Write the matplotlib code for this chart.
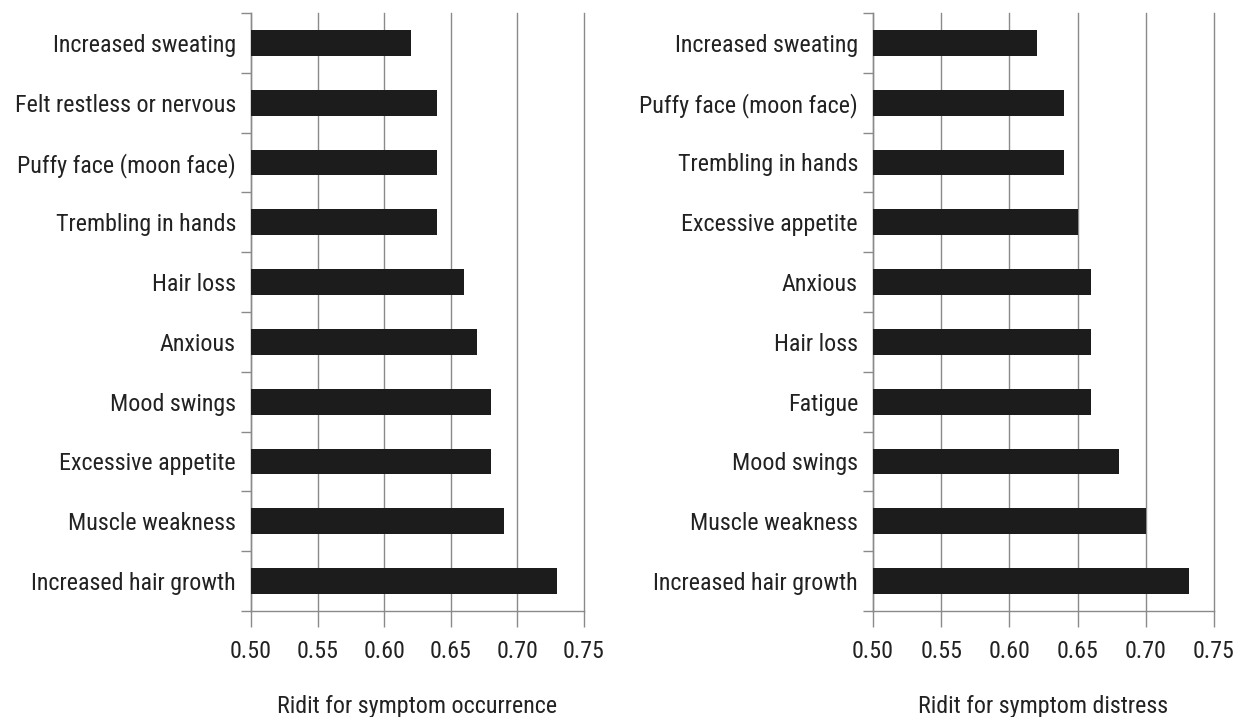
import matplotlib
matplotlib.use("Agg")
import matplotlib.pyplot as plt
import numpy as np
from matplotlib.ticker import FixedLocator

plt.rcParams['font.family'] = ['Roboto Condensed', 'Archivo Narrow', 'DejaVu Sans']

occ_labels = ["Increased sweating", "Felt restless or nervous", "Puffy face (moon face)",
              "Trembling in hands", "Hair loss", "Anxious", "Mood swings",
              "Excessive appetite", "Muscle weakness", "Increased hair growth"]
occ_values = [0.62, 0.64, 0.64, 0.64, 0.66, 0.67, 0.68, 0.68, 0.69, 0.73]

dis_labels = ["Increased sweating", "Puffy face (moon face)", "Trembling in hands",
              "Excessive appetite", "Anxious", "Hair loss", "Fatigue", "Mood swings",
              "Muscle weakness", "Increased hair growth"]
dis_values = [0.62, 0.64, 0.64, 0.65, 0.66, 0.66, 0.66, 0.68, 0.70, 0.732]

x_ticks = [0.50, 0.55, 0.60, 0.65, 0.70, 0.75]
x_titles = ["Ridit for symptom occurrence", "Ridit for symptom distress"]

W, H = 1242, 717
fig = plt.figure(figsize=(W / 100, H / 100), dpi=100)

text_c = "#222222"
grid_c = "#8a8a8a"
bar_c = "#1c1c1c"
fs = 17.3

panels = [
    (occ_labels, occ_values, x_titles[0], (251, 584)),
    (dis_labels, dis_values, x_titles[1], (873, 1214)),
]
top_px, bot_px = 13, 611

for labels, values, title, (x0, x1) in panels:
    ax = fig.add_axes([x0 / W, 1 - bot_px / H, (x1 - x0) / W, (bot_px - top_px) / H])
    n = len(labels)
    ypos = np.arange(n)[::-1]
    ax.barh(ypos, np.array(values) - 0.5, left=0.5, height=0.43, color=bar_c, zorder=3)
    ax.set_xlim(0.5, 0.75)
    ax.set_ylim(-0.5, n - 0.5)
    ax.set_yticks(ypos)
    ax.set_yticklabels(labels, fontsize=fs, color=text_c)
    ax.yaxis.set_minor_locator(FixedLocator(np.arange(-0.5, n, 1.0)))
    ax.tick_params(axis='y', which='major', length=0, pad=10.8)
    ax.tick_params(axis='y', which='minor', length=7.2, width=1, color=grid_c, direction='out')
    ax.set_xticks(x_ticks)
    ax.set_xticklabels([f"{v:.2f}" for v in x_ticks], fontsize=fs, color=text_c)
    ax.tick_params(axis='x', which='major', length=11.5, width=1, color=grid_c, pad=9.5)
    ax.grid(axis='x', color=grid_c, linewidth=1, zorder=0)
    for gl in ax.get_xgridlines():
        gl.set_clip_on(False)
    for s in ['top', 'right']:
        ax.spines[s].set_visible(False)
    for s in ['left', 'bottom']:
        ax.spines[s].set_color(grid_c)
        ax.spines[s].set_linewidth(1)
    fig.text((x0 + x1) / 2 / W, 1 - 713 / H, title, fontsize=fs, color=text_c,
             ha='center', va='baseline')

fig.savefig("out.png", dpi=100)
